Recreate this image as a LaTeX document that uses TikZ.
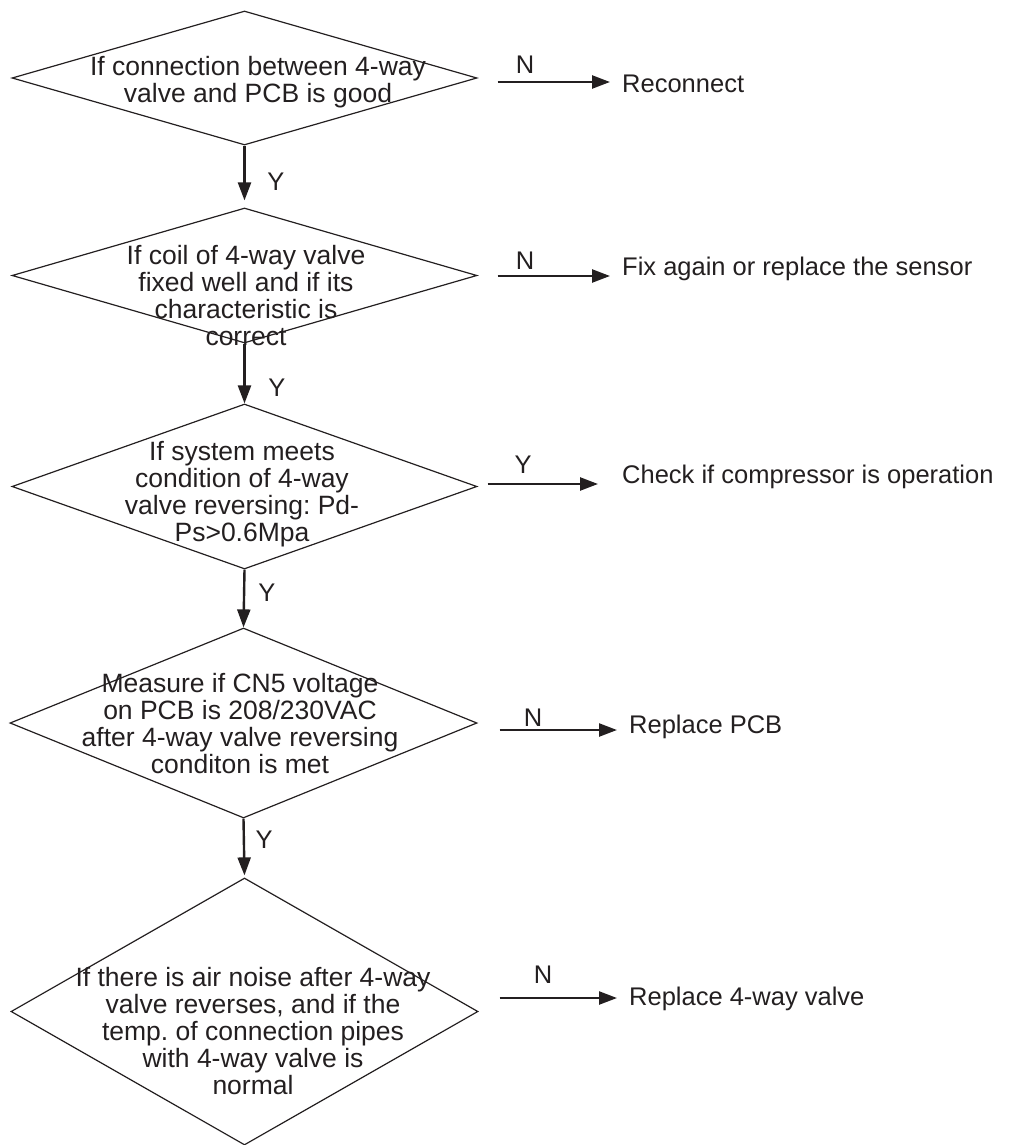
\documentclass[tikz,border=0pt]{standalone}
\usepackage{fontspec}
\setmainfont{Liberation Sans}
\usetikzlibrary{shapes.geometric,arrows.meta}
\definecolor{ink}{HTML}{231F20}
\frenchspacing
\begin{document}
\begin{tikzpicture}[x=1pt,y=-1pt,
  dec/.style={diamond, draw=ink, line width=1.2pt, inner sep=0pt, minimum width=465pt},
  dtext/.style={text=ink, align=center, inner sep=0pt, font=\fontsize{26.5}{27}\selectfont},
  act/.style={text=ink, anchor=base west, inner xsep=12pt, inner ysep=0pt, font=\fontsize{25.5}{27}\selectfont},
  lab/.style={text=ink, inner sep=0pt, font=\fontsize{25.5}{27}\selectfont},
  arr/.style={draw=ink, line width=2.4pt, -{Triangle[length=18pt,width=13pt]}}]
\useasboundingbox (0,0) rectangle (1016,1145);

% decisions
\node[dec, minimum height=134pt,
  label={[dtext, xshift=13.5pt, yshift=-4pt]center:{If connection between 4-way\\valve and PCB is good}}] (d1) at (244.5,78) {};
\node[dec, minimum height=135pt,
  label={[dtext, xshift=1.5pt, yshift=-20pt]center:{If coil of 4-way valve\\fixed well and if its\\characteristic is\\correct}}] (d2) at (244.5,275.5) {};
\node[dec, minimum height=165pt,
  label={[dtext, xshift=-2.5pt, yshift=-8pt]center:{If system meets\\condition of 4-way\\valve reversing: Pd-\\Ps>0.6Mpa}}] (d3) at (244.5,486.5) {};
\node[dec, minimum height=190pt, minimum width=467pt,
  label={[dtext, xshift=-3.5pt, yshift=-0.5pt]center:{Measure if CN5 voltage\\on PCB is 208/230VAC\\after 4-way valve reversing\\conditon is met}}] (d4) at (243.5,723) {};
\node[dec, minimum height=267pt, minimum width=467pt,
  label={[dtext, xshift=8.5pt, yshift=-19.5pt]center:{If there is air noise after 4-way\\valve reverses, and if the\\temp. of connection pipes\\with 4-way valve is\\normal}}] (d5) at (244.5,1011.5) {};

% actions
\node[act] (r1) at (610,93) {Reconnect};
\node[act] (r2) at (610,275) {Fix again or replace the sensor};
\node[act, inner xsep=24pt] (r3) at (598,483) {Check if compressor is operation};
\node[act] (r4) at (617,733) {Replace PCB};
\node[act] (r5) at (617,1005) {Replace 4-way valve};

% vertical connectors
\draw[arr, shorten >=7pt] (d1.south) -- (d2.north);
\draw[arr] (d2.south) -- (d3.north);
\draw[arr] (d3.south) -- (d4.north);
\draw[arr, shorten >=2pt] (d4.south) -- (d5.north);
\node[lab] (y1) at (276,182) {Y};
\node[lab] (y2) at (277,388) {Y};
\node[lab] (y3) at (267,593) {Y};
\node[lab] (y4) at (264,840) {Y};

% horizontal connectors
\draw[arr] ([xshift=20pt,yshift=-4pt]d1.east) -- ([yshift=-4pt]d1.east -| r1.west);
\draw[arr] ([xshift=20pt,yshift=-0.5pt]d2.east) -- ([yshift=-0.5pt]d2.east -| r2.west);
\draw[arr] ([xshift=10pt,yshift=2.5pt]d3.east) -- ([yshift=2.5pt]d3.east -| r3.west);
\draw[arr] ([xshift=22pt,yshift=-7pt]d4.east) -- ([yshift=-7pt]d4.east -| r4.west);
\draw[arr] ([xshift=21pt,yshift=13.5pt]d5.east) -- ([yshift=13.5pt]d5.east -| r5.west);
\node[lab] (n1) at (525,65) {N};
\node[lab] (n2) at (525,261) {N};
\node[lab] (y5) at (523,465) {Y};
\node[lab] (n4) at (533,718) {N};
\node[lab] (n5) at (543,975) {N};
\end{tikzpicture}
\end{document}
